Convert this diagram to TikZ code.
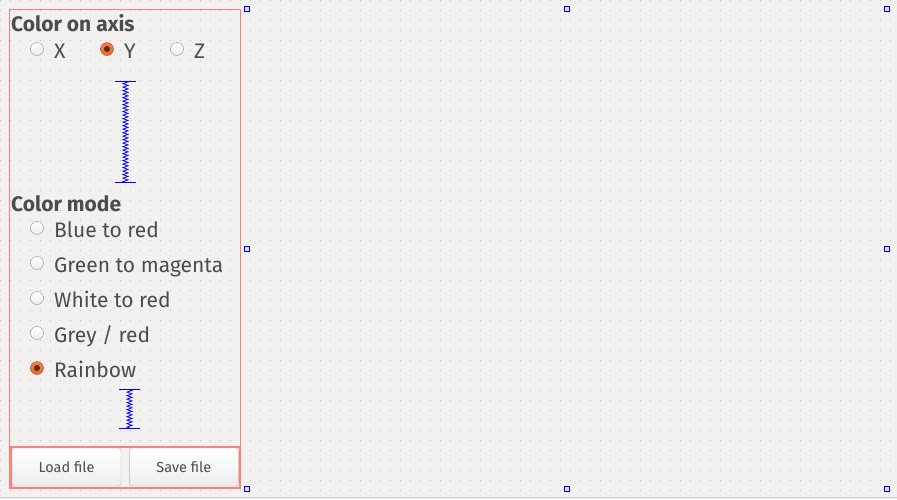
\documentclass[tikz,border=0pt]{standalone}
\usepackage{fontspec}
\setmainfont{Fira Sans}
\usetikzlibrary{positioning,decorations.pathmorphing}

\definecolor{canvas}{HTML}{F2F1F0}
\definecolor{dotgrey}{HTML}{BEBEBE}
\definecolor{labelgrey}{HTML}{4C4C4C}
\definecolor{layoutred}{HTML}{FF7F7F}
\definecolor{handleblue}{HTML}{0000FF}
\definecolor{radioorange}{HTML}{EA6A2E}

\tikzset{
  heading/.style={anchor=base west, inner sep=0pt, text=labelgrey,
    font=\bfseries\fontsize{21}{25}\selectfont},
  radiolabel/.style={anchor=base west, inner sep=0pt, text=labelgrey,
    font=\fontsize{21}{25}\selectfont},
  radio/.style={circle, minimum size=13pt, inner sep=0pt, draw=black!45,
    top color=white, bottom color=black!8},
  radioon/.style={circle, minimum size=13pt, inner sep=0pt,
    draw=radioorange!75!black, top color=radioorange!85!white, bottom color=radioorange,
    path picture={\fill[radioorange!40!black] (path picture bounding box.center) circle (3pt);}},
  spacerline/.style={handleblue, line width=1pt},
  spacercoil/.style={handleblue, line width=0.8pt, decorate,
    decoration={zigzag, segment length=3.5pt, amplitude=2.5pt}},
  pushbtn/.style={draw=black!28, rounded corners=3pt, minimum width=109pt,
    minimum height=38pt, top color=white, bottom color=black!7, text=labelgrey,
    font=\fontsize{14.5}{17}\selectfont},
  handle/.style={draw=handleblue, fill=black!12, line width=1pt}
}

\begin{document}
\begin{tikzpicture}[x=1pt,y=-1pt]
  \fill[canvas] (0,0) rectangle (897,499);
  \useasboundingbox (0,0) rectangle (897,499);

  % grid
  \foreach \y in {0,10,...,490}
    \draw[dotgrey, line width=1pt, dash pattern=on 1pt off 9pt] (-0.5,\y) -- (897,\y);
  \draw[black!22] (0,497.5) -- (897,497.5);

  % layouts
  \draw[layoutred] (9.5,9.5) rectangle (240.5,488.5);
  \draw[layoutred, line width=2pt] (10.5,447) rectangle (239.5,487.5);

  % axis group
  \node[heading] (axistitle) at (11,31) {Color on axis};
  \node[radio] (rx) at (37,49) {};
  \node[radioon] (ry) at (107,49) {};
  \node[radio] (rz) at (177,49) {};
  \node[radiolabel] (lx) at (54,58) {X};
  \node[radiolabel] (ly) at (124,58) {Y};
  \node[radiolabel] (lz) at (194,58) {Z};

  % spacer 1
  \coordinate (sptopa) at (125.5,81);
  \coordinate (spbota) at (125.5,182.5);
  \draw[spacerline] ([xshift=-10.5pt]sptopa) -- ([xshift=10.5pt]sptopa);
  \draw[spacerline] ([xshift=-10.5pt]spbota) -- ([xshift=10.5pt]spbota);
  \draw[spacercoil] (sptopa) -- (spbota);

  % mode group
  \node[heading] (modetitle) at (11,211) {Color mode};
  \foreach \i/\txt in {0/{Blue to red},1/{Green to magenta},2/{White to red},3/{Grey / red}}{
    \node[radio] (rm\i) at (37,228+35*\i) {};
    \node[radiolabel] (lm\i) at (54,237+35*\i) {\txt};
  }
  \node[radioon] (rm4) at (37,368) {};
  \node[radiolabel] (lm4) at (54,377) {Rainbow};

  % spacer 2
  \coordinate (sptopb) at (129.5,389.5);
  \coordinate (spbotb) at (129.5,428.5);
  \draw[spacerline] ([xshift=-10.5pt]sptopb) -- ([xshift=10.5pt]sptopb);
  \draw[spacerline] ([xshift=-10.5pt]spbotb) -- ([xshift=10.5pt]spbotb);
  \draw[spacercoil] (sptopb) -- (spbotb);

  % buttons
  \node[pushbtn] (loadbtn) at (66.5,467) {Load file};
  \node[pushbtn, right=8pt of loadbtn] (savebtn) {Save file};

  % handles
  \foreach \x/\y in {247/8.5,567/8.5,887/8.5,247/248.5,887/248.5,247/489,567/489,887/489}
    \draw[handle] (\x-2.5,\y-2.5) rectangle (\x+2.5,\y+2.5);
\end{tikzpicture}
\end{document}
